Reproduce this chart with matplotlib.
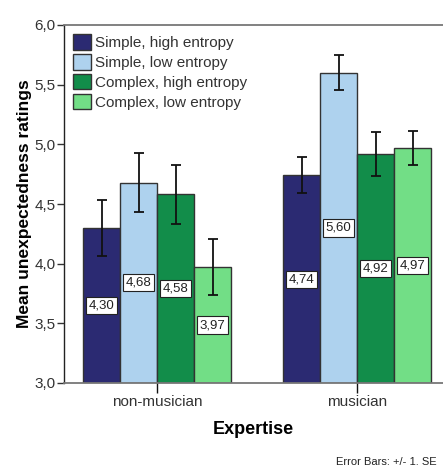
import matplotlib
matplotlib.use("Agg")
import matplotlib.pyplot as plt
import numpy as np

plt.rcParams['font.family'] = ['Liberation Sans', 'DejaVu Sans']

groups = ["non-musician", "musician"]
series = ["Simple, high entropy", "Simple, low entropy",
          "Complex, high entropy", "Complex, low entropy"]
means = {
    "Simple, high entropy": [4.30, 4.74],
    "Simple, low entropy": [4.68, 5.60],
    "Complex, high entropy": [4.58, 4.92],
    "Complex, low entropy": [3.97, 4.97],
}
ses = {
    "Simple, high entropy": [0.235, 0.15],
    "Simple, low entropy": [0.245, 0.148],
    "Complex, high entropy": [0.25, 0.183],
    "Complex, low entropy": [0.235, 0.141],
}
colors = ["#2b2a72", "#aed2ee", "#128d4a", "#72de86"]
ymin, ymax = 3.0, 6.0

fig = plt.figure(figsize=(4.43, 4.68), dpi=100)
ax = fig.add_axes([64/443, 1-383/468, 1-64/443, (383-25)/468])

x = np.arange(len(groups))
bw = 0.185
for i, s in enumerate(series):
    xs = x + (i - 1.5) * bw
    vals = np.array(means[s])
    ax.bar(xs, vals - ymin, bottom=ymin, width=bw, color=colors[i],
           edgecolor="#333333", linewidth=1.0, zorder=2, label=s)
    ax.errorbar(xs, vals, yerr=ses[s], fmt="none", ecolor="#111111",
                elinewidth=1.3, capsize=3.8, capthick=1.3, zorder=3)
    for xv, v in zip(xs, vals):
        ax.text(xv, (v + ymin) / 2, f"{v:.2f}".replace(".", ","),
                ha="center", va="center", fontsize=9.5, color="#222222",
                zorder=4,
                bbox=dict(boxstyle="square,pad=0.2", fc="white",
                          ec="#222222", lw=0.8))

ax.set_xlim(-0.465, 1.43)
ax.set_ylim(ymin, ymax)
ax.set_yticks([3.0, 3.5, 4.0, 4.5, 5.0, 5.5, 6.0])
ax.set_yticklabels([f"{t:.1f}".replace(".", ",") for t in ax.get_yticks()],
                   fontsize=11, color="#333333")
ax.set_xticks(x)
ax.set_xticklabels(groups, fontsize=11, color="#333333")
ax.tick_params(axis="y", direction="out", length=5, width=1, color="#333333", pad=1)
ax.tick_params(axis="x", direction="inout", length=14, width=1, color="#111111", pad=2)

for sp in ["top", "bottom"]:
    ax.spines[sp].set_color("#777777")
    ax.spines[sp].set_linewidth(1.3)
ax.spines["left"].set_color("#222222")
ax.spines["left"].set_linewidth(1.0)
ax.spines["right"].set_visible(False)

ax.set_ylabel("Mean unexpectedness ratings", fontsize=12.5, fontweight="bold", labelpad=2)
ax.set_xlabel("Expertise", fontsize=13, fontweight="bold", labelpad=8)

leg = ax.legend(loc="upper left", bbox_to_anchor=(0.0, 1.0), frameon=False,
                fontsize=11, handlelength=1.2, handleheight=1.2,
                handletextpad=0.2, labelspacing=0.25, borderaxespad=0.2)
for t in leg.get_texts():
    t.set_color("#333333")

fig.text(0.986, 0.002, "Error Bars: +/- 1. SE", ha="right", va="bottom",
         fontsize=8, color="#222222")

fig.savefig("out.png", dpi=100)
